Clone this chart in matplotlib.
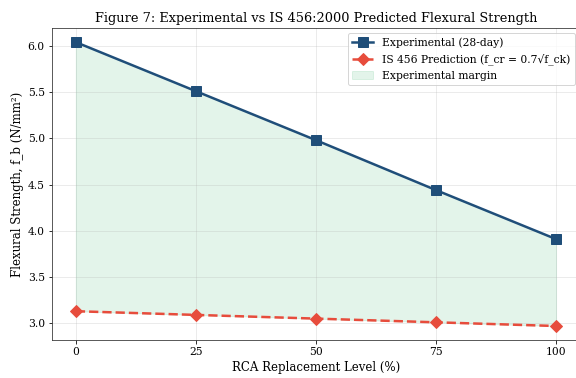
import matplotlib.pyplot as plt

# data
rca_levels = [0, 25, 50, 75, 100]
experimental = [6.04, 5.51, 4.98, 4.44, 3.91]
is456_pred = [3.13, 3.09, 3.05, 3.01, 2.97]

plt.rcParams["font.family"] = "DejaVu Serif"

fig, ax = plt.subplots(figsize=(8, 5.25), dpi=72)

ax.plot(rca_levels, experimental, marker="s", markersize=9.5, linewidth=2.5,
        color="#1f4e79", label="Experimental (28-day)", zorder=3)
ax.plot(rca_levels, is456_pred, marker="D", markersize=8.5, linewidth=2.5,
        linestyle="--", color="#e74c3c", label="IS 456 Prediction (f_cr = 0.7√f_ck)", zorder=3)
ax.fill_between(rca_levels, is456_pred, experimental, color="#27ae60",
                alpha=0.13, label="Experimental margin")

ax.set_title("Figure 7: Experimental vs IS 456:2000 Predicted Flexural Strength", fontsize=12.85)
ax.set_xlabel("RCA Replacement Level (%)", fontsize=11.8)
ax.set_ylabel("Flexural Strength, f_b (N/mm²)", fontsize=11.8)
ax.set_xticks(rca_levels)
ax.tick_params(labelsize=10.7)
ax.grid(True, alpha=0.3)
for sp in ax.spines.values():
    sp.set_color("#333333")
ax.legend(loc="upper right", fontsize=10.7)

plt.subplots_adjust(left=0.09, right=1.007, bottom=0.10, top=0.926)
plt.savefig("out.png", dpi=72)
